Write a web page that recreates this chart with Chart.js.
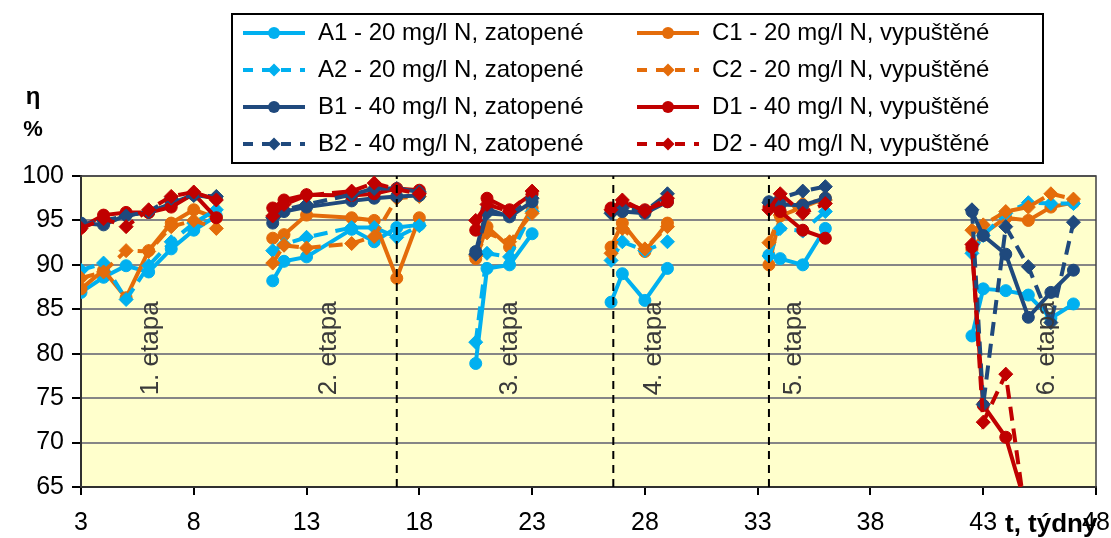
<!DOCTYPE html>
<html>
<head>
<meta charset="utf-8">
<script src="https://cdn.jsdelivr.net/npm/chart.js@4.4.1/dist/chart.umd.min.js"></script>
<style>
  body { margin: 0; background: #fff; }
  #wrap { width: 1111px; height: 538px; }
</style>
</head>
<body>
<div id="wrap"><canvas id="chart" width="1111" height="538"></canvas></div>
<script>
// týdny měření, null v řadách = přerušení mezi etapami
const weeks = [3, 4, 5, 6, 7, 8, 9, 10,
  11.5, 12, 13, 15, 16, 17, 18, 19,
  20.5, 21, 22, 23, 25,
  26.5, 27, 28, 29, 31,
  33.5, 34, 35, 36, 39,
  42.5, 43, 44, 45, 46, 47];

const a1 = [86.9, 88.6, 89.9, 89.2, 91.8, 93.9, 95.5, null,
  88.2, 90.4, 90.9, 94.0, 92.6, 94.2, 94.5, null,
  78.9, 89.6, 90.0, 93.5, null,
  85.8, 89.0, 86.0, 89.6, null,
  91.1, 90.7, 90.0, 94.1, null,
  82.0, 87.3, 87.1, 86.6, 84.0, 85.6];
const a2 = [89.4, 90.2, 86.1, 89.9, 92.6, 94.7, 96.2, null,
  91.6, 92.3, 93.1, 94.2, 94.2, 93.1, 94.4, null,
  81.3, 91.3, 90.9, 96.0, null,
  90.5, 92.6, 91.6, 92.6, null,
  91.0, 94.1, 93.8, 96.0, null,
  91.3, 93.3, 95.8, 97.0, 96.9, 96.9];
const b1 = [94.7, 94.5, 95.6, 95.9, 96.9, 97.9, 97.5, null,
  94.7, 96.0, 96.5, 97.2, 97.5, 97.7, 97.8, null,
  91.5, 96.3, 95.4, 97.1, null,
  96.0, 96.0, 95.8, 97.1, null,
  97.1, 96.8, 96.7, 97.5, null,
  96.0, 93.3, 91.2, 84.1, 86.9, 89.4];
const b2 = [94.5, 95.0, 95.5, 96.0, 97.5, 97.8, 97.7, null,
  95.3, 96.2, 96.8, 97.9, 98.6, 98.6, 98.2, null,
  91.2, 95.8, 95.6, 97.5, null,
  95.8, 96.4, 96.0, 98.0, null,
  97.0, 97.5, 98.3, 98.8, null,
  96.2, 74.3, 94.3, 89.8, 83.5, 94.8];
const c1 = [87.3, 89.4, 86.3, 91.6, 94.7, 96.2, 95.3, null,
  93.0, 93.4, 95.6, 95.3, 95.0, 88.5, 95.3, null,
  90.7, 94.3, 92.0, 96.4, null,
  92.0, 94.7, 91.5, 94.7, null,
  90.0, 95.5, 96.5, 97.5, null,
  91.7, 93.5, 95.3, 95.0, 96.5, 97.0];
const c2 = [88.5, 89.2, 91.6, 91.5, 94.3, 95.0, 94.1, null,
  90.2, 92.2, 91.9, 92.4, 93.2, 97.5, 97.7, null,
  91.0, 93.6, 92.6, 95.8, null,
  91.3, 94.1, 91.8, 94.3, null,
  92.5, 95.6, 96.9, 97.3, null,
  93.9, 94.5, 96.0, 96.5, 98.0, 97.4];
const d1 = [94.2, 95.6, 95.9, 95.9, 96.5, 98.0, 95.3, null,
  96.4, 97.3, 97.9, 97.8, 98.0, 98.6, 98.4, null,
  93.9, 97.5, 96.2, 98.0, null,
  96.4, 96.9, 96.2, 97.1, null,
  96.5, 96.0, 93.9, 93.0, null,
  92.0, 74.2, 70.6, 62.0, null, null];
const d2 = [94.1, 95.2, 94.3, 96.2, 97.7, 98.2, 97.3, null,
  95.5, 96.8, 97.8, 98.3, 99.2, 98.5, 98.0, null,
  95.0, 96.8, 96.0, 98.3, null,
  96.2, 97.3, 96.0, 97.5, null,
  96.2, 98.0, 95.8, 96.9, null,
  92.3, 72.3, 77.7, 59.5, null, null];

const xTicks = [3, 8, 13, 18, 23, 28, 33, 38, 43, 48];
const yTicks = [65, 70, 75, 80, 85, 90, 95, 100];
const stageBounds = [17, 26.6, 33.5];
const stageNames = ['1. etapa', '2. etapa', '3. etapa', '4. etapa', '5. etapa', '6. etapa'];
const stageLabelX = [6.1, 14.0, 22.0, 28.4, 34.6, 45.8];
const stageLabelY = 80.6;

const FONT = "'Liberation Sans', Arial, sans-serif";

function serie(label, values, color, dashed, i) {
    return {
        label: label,
        data: weeks.map((w, k) => ({ x: w, y: values[k] })),
        borderColor: color,
        backgroundColor: color,
        pointBackgroundColor: color,
        pointBorderColor: color,
        borderWidth: 4,
        borderDash: dashed ? [14, 8] : [],
        pointStyle: dashed ? 'rectRot' : 'circle',
        pointRadius: dashed ? 7 : 6,
        pointBorderWidth: 1,
        spanGaps: false,
        clip: 0,
        order: 20 - i
    };
}

const datasets = [
    serie('A1 - 20 mg/l N, zatopené', a1, '#00B0F0', false, 0),
    serie('C1 - 20 mg/l N, vypuštěné', c1, '#E46C0A', false, 1),
    serie('A2 - 20 mg/l N, zatopené', a2, '#00B0F0', true, 2),
    serie('C2 - 20 mg/l N, vypuštěné', c2, '#E46C0A', true, 3),
    serie('B1 - 40 mg/l N, zatopené', b1, '#1F497D', false, 4),
    serie('D1 - 40 mg/l N, vypuštěné', d1, '#C00000', false, 5),
    serie('B2 - 40 mg/l N, zatopené', b2, '#1F497D', true, 6),
    serie('D2 - 40 mg/l N, vypuštěné', d2, '#C00000', true, 7)
];

// svislé čáry mezi etapami
stageBounds.forEach(b => {
    datasets.push({
        label: '',
        stageLine: true,
        data: [{ x: b, y: 65 }, { x: b, y: 100 }],
        borderColor: '#000',
        borderWidth: 2,
        borderDash: [8, 6],
        pointRadius: 0,
        order: 0
    });
});

function marker(ctx, style, x, y, r) {
    ctx.beginPath();
    if (style === 'circle') {
        ctx.arc(x, y, r, 0, Math.PI * 2);
    } else {
        ctx.moveTo(x, y - r);
        ctx.lineTo(x + r, y);
        ctx.lineTo(x, y + r);
        ctx.lineTo(x - r, y);
        ctx.closePath();
    }
    ctx.fill();
}

const decorPlugin = {
    id: 'decor',
    beforeDraw(chart) {
        const a = chart.chartArea, ctx = chart.ctx;
        ctx.save();
        ctx.fillStyle = '#FFFFCC';
        ctx.fillRect(a.left, a.top, a.right - a.left, a.bottom - a.top);
        ctx.restore();
    },
    beforeDatasetsDraw(chart) {
        const a = chart.chartArea, ctx = chart.ctx;
        ctx.save();
        ctx.strokeStyle = '#404040';
        ctx.lineWidth = 1.5;
        ctx.strokeRect(a.left, a.top, a.right - a.left, a.bottom - a.top);
        ctx.restore();
    },
    afterDatasetsDraw(chart) {
        const ctx = chart.ctx, xs = chart.scales.x, ys = chart.scales.y;
        ctx.save();
        ctx.fillStyle = '#3a3a3a';
        ctx.font = '26px ' + FONT;
        ctx.textAlign = 'center';
        ctx.textBaseline = 'middle';
        stageNames.forEach((name, i) => {
            ctx.save();
            ctx.translate(xs.getPixelForValue(stageLabelX[i]), ys.getPixelForValue(stageLabelY));
            ctx.rotate(-Math.PI / 2);
            ctx.fillText(name, 0, 0);
            ctx.restore();
        });
        ctx.restore();
    },
    afterDraw(chart) {
        const ctx = chart.ctx;
        ctx.save();
        // legenda
        ctx.strokeStyle = '#000';
        ctx.lineWidth = 2;
        ctx.strokeRect(232, 14, 811, 149);
        ctx.font = '24px ' + FONT;
        ctx.textBaseline = 'middle';
        chart.data.datasets.filter(d => !d.stageLine).forEach((d, i) => {
            const x0 = i % 2 ? 637 : 243;
            const y = 33 + Math.floor(i / 2) * 37;
            ctx.strokeStyle = d.borderColor;
            ctx.lineWidth = 4;
            ctx.setLineDash(d.borderDash.length ? [10, 9] : []);
            ctx.beginPath();
            ctx.moveTo(x0, y);
            ctx.lineTo(x0 + 62, y);
            ctx.stroke();
            ctx.setLineDash([]);
            ctx.fillStyle = d.borderColor;
            marker(ctx, d.pointStyle, x0 + 31, y, d.pointStyle === 'circle' ? 6 : 6.5);
            ctx.fillStyle = '#000';
            ctx.fillText(d.label, x0 + 75, y);
        });
        // popisky os
        ctx.fillStyle = '#000';
        ctx.textAlign = 'center';
        ctx.font = 'bold 24px ' + FONT;
        ctx.fillText('η', 33, 97);
        ctx.font = 'bold 22px ' + FONT;
        ctx.fillText('%', 33, 130);
        ctx.textAlign = 'left';
        ctx.font = 'bold 26px ' + FONT;
        ctx.fillText('t, týdny', 1005, 525);
        ctx.restore();
    }
};

new Chart(document.getElementById('chart'), {
    type: 'line',
    data: { datasets: datasets },
    options: {
        responsive: false,
        animation: false,
        devicePixelRatio: 1,
        layout: { padding: { top: 176, right: 15, left: 0, bottom: 0 } },
        plugins: { legend: { display: false }, tooltip: { enabled: false } },
        scales: {
            x: {
                type: 'linear',
                min: 3,
                max: 48,
                afterBuildTicks: s => { s.ticks = xTicks.map(v => ({ value: v })); },
                afterFit: s => { s.height = 51; s.paddingLeft = 0; s.paddingRight = 0; },
                grid: { drawOnChartArea: false, drawTicks: true, tickLength: 8, tickColor: '#000', lineWidth: 2 },
                border: { color: '#000', width: 2 },
                ticks: { color: '#000', font: { family: FONT, size: 25 }, padding: 13, maxRotation: 0, autoSkip: false }
            },
            y: {
                min: 65,
                max: 100,
                afterBuildTicks: s => { s.ticks = yTicks.map(v => ({ value: v })); },
                afterFit: s => { s.width = 81; s.paddingTop = 0; s.paddingBottom = 0; },
                grid: { color: '#868686', lineWidth: 2, tickLength: 9, tickColor: '#000' },
                border: { color: '#000', width: 2 },
                ticks: { color: '#000', font: { family: FONT, size: 25 }, padding: 8 }
            }
        }
    },
    plugins: [decorPlugin]
});
</script>
</body>
</html>
